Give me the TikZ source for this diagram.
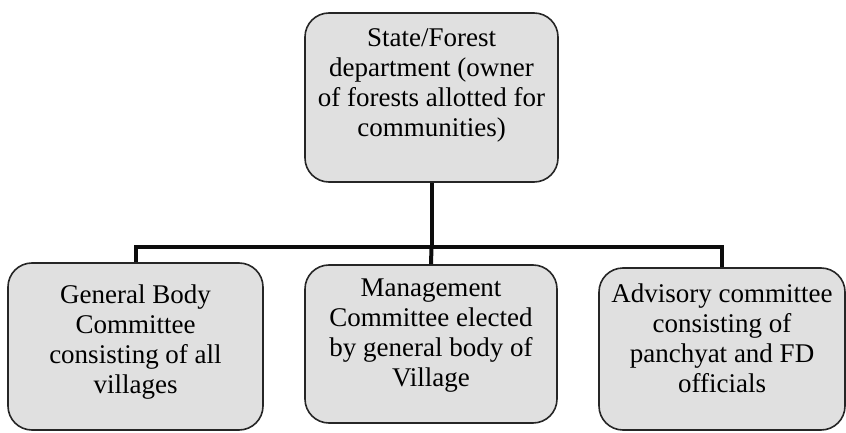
\documentclass[tikz,border=0pt]{standalone}
\usepackage{fontspec}
\setmainfont{Liberation Serif}
\usetikzlibrary{positioning}

\begin{document}
\begin{tikzpicture}[x=1pt, y=-1pt,
  every node/.style={font=\fontsize{27}{30}\selectfont},
  box/.style={draw=black!85, line width=1.6pt, fill=black!12, rounded corners=24pt, inner sep=0pt},
  txt/.style={align=center, inner sep=0pt, anchor=north},
  wire/.style={line width=4pt, black!95}]
  \useasboundingbox (0,0) rectangle (846,433);
  % boxes at their places in the scan, text hung from the top edge
  \node[box, minimum width=253pt, minimum height=169pt] (state) at (431.5,97.5) {};
  \node[box, minimum width=255pt, minimum height=167pt] (general) at (135.5,346.5) {};
  \node[box, minimum width=252pt, minimum height=158pt] (manage) at (431,344) {};
  \node[box, minimum width=246pt, minimum height=162pt] (advisory) at (722,349) {};
  \node[txt, below=16pt of state.north] (statetxt) {State/Forest\\department (owner\\of forests allotted for\\communities)};
  \node[txt, below=22pt of general.north] (generaltxt) {General Body\\Committee\\consisting of all\\villages};
  \node[txt, below=14pt of manage.north] (managetxt) {Management\\Committee elected\\by general body of\\Village};
  \node[txt, below=16pt of advisory.north] (advisorytxt) {Advisory committee\\consisting of\\panchyat and FD\\officials};
  % the bus
  \coordinate (hub) at (state.south |- 0,247);
  \draw[wire] (state.south) -- (hub);
  \draw[wire] (general.north) |- (hub) -| (advisory.north);
  \draw[wire] (hub) -- (manage.north);
\end{tikzpicture}
\end{document}
